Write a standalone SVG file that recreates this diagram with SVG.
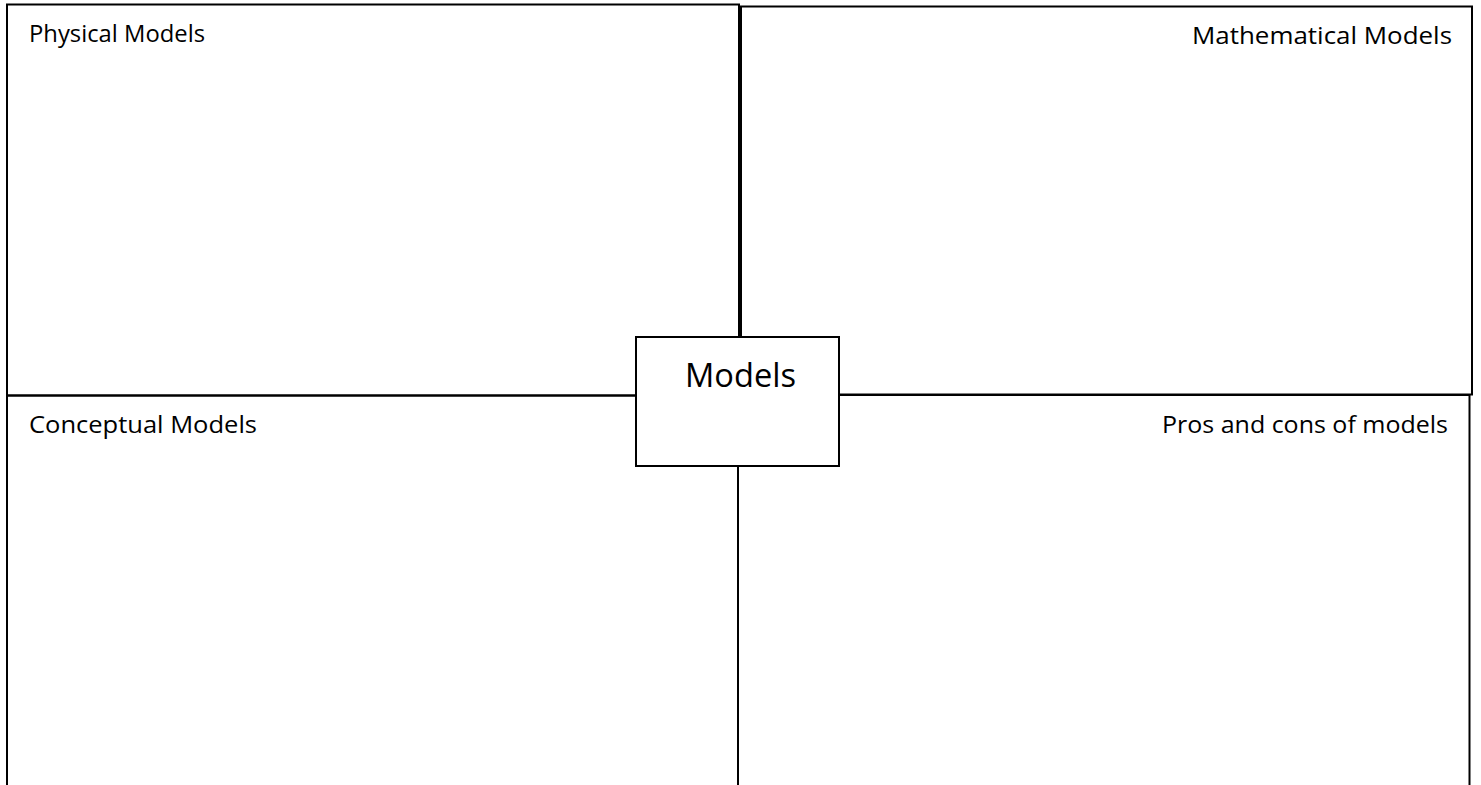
<svg xmlns="http://www.w3.org/2000/svg" width="1481" height="785" viewBox="0 0 1481 785">
  <style>
    .box { fill: none; stroke: #000; stroke-width: 2; }
    .center { fill: #fff; stroke: #000; stroke-width: 2; }
    .label { font-family: "Open Sans", "Noto Sans", "Liberation Sans", sans-serif; font-size: 24px; fill: #000; }
    .title { font-family: "Open Sans", "Noto Sans", "Liberation Sans", sans-serif; font-size: 33px; fill: #000; }
  </style>
  <rect x="0" y="0" width="1481" height="785" fill="#fff"/>
  <g id="physical-models">
    <rect class="box" x="7" y="4.5" width="732" height="391"/>
    <text class="label" x="29" y="42" textLength="176" lengthAdjust="spacingAndGlyphs">Physical Models</text>
  </g>
  <g id="mathematical-models">
    <rect class="box" x="741" y="6.5" width="731" height="388"/>
    <text class="label" x="1192" y="44" textLength="260" lengthAdjust="spacingAndGlyphs">Mathematical Models</text>
  </g>
  <g id="conceptual-models">
    <rect class="box" x="7" y="395.5" width="731" height="420"/>
    <text class="label" x="29" y="433" textLength="228" lengthAdjust="spacingAndGlyphs">Conceptual Models</text>
  </g>
  <g id="pros-and-cons">
    <rect class="box" x="738" y="395" width="731.5" height="420"/>
    <text class="label" x="1162" y="433" textLength="286" lengthAdjust="spacingAndGlyphs">Pros and cons of models</text>
  </g>
  <g id="models">
    <rect class="center" x="636" y="337" width="203" height="129"/>
    <text class="title" x="685" y="387" textLength="111" lengthAdjust="spacingAndGlyphs">Models</text>
  </g>
</svg>
